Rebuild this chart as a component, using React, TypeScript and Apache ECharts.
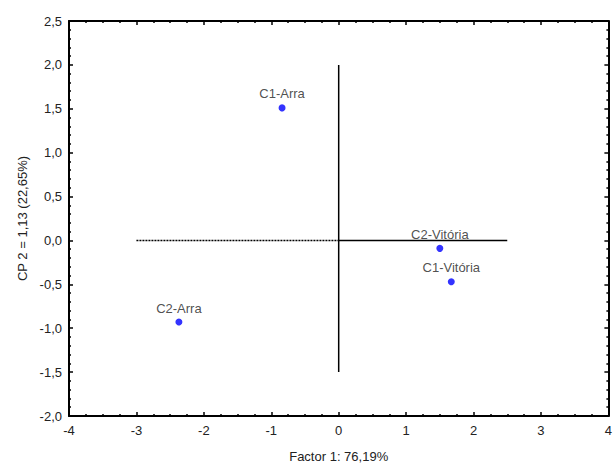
import React, { useEffect, useRef } from "react";
import * as echarts from "echarts";

const pointNames = ["C1-Arra", "C2-Arra", "C2-Vitória", "C1-Vitória"];
const factor1 = [-0.84, -2.37, 1.5, 1.67];
const factor2 = [1.51, -0.93, -0.09, -0.47];
const dottedLine = [[-3, 0], [0, 0]];
const solidLine = [[0, 0], [2.5, 0]];
const verticalLine = [[0, 2.0], [0, -1.5]];

const fmt = (v: number, d: number) => v.toFixed(d).replace(".", ",");

export default function App() {
  const ref = useRef<HTMLDivElement>(null);
  useEffect(() => {
    if (!ref.current) return;
    const chart = echarts.init(ref.current, null, { renderer: "svg" });
    const font = "Liberation Sans, Arial, sans-serif";
    const txt = "#222";
    const baseX = {
      type: "value",
      min: -4,
      max: 4,
      interval: 1,
      splitLine: { show: false },
      axisLine: { show: true, onZero: false, lineStyle: { color: "#000", width: 2 } },
      axisTick: { show: true, inside: true, length: 4, lineStyle: { color: "#000", width: 1.5 } },
      minorTick: { show: true, splitNumber: 4, length: 2, lineStyle: { color: "#000", width: 1.5 } },
    };
    const baseY = {
      type: "value",
      min: -2,
      max: 2.5,
      interval: 0.5,
      splitLine: { show: false },
      axisLine: { show: true, onZero: false, lineStyle: { color: "#000", width: 2 } },
      axisTick: { show: true, inside: true, length: 4, lineStyle: { color: "#000", width: 1.5 } },
      minorTick: { show: true, splitNumber: 5, length: 2, lineStyle: { color: "#000", width: 1.5 } },
    };
    chart.setOption({
      animation: false,
      backgroundColor: "#fff",
      grid: { left: 69, right: 6, top: 21, bottom: 46, containLabel: false },
      xAxis: [
        {
          ...baseX,
          position: "bottom",
          name: "Factor 1: 76,19%",
          nameLocation: "middle",
          nameGap: 34,
          nameTextStyle: { color: txt, fontSize: 13, fontFamily: font },
          axisLabel: { color: txt, fontSize: 13, fontFamily: font, margin: 8, formatter: (v: number) => String(v) },
        },
        { ...baseX, position: "top", axisLabel: { show: false } },
      ],
      yAxis: [
        {
          ...baseY,
          position: "left",
          name: "CP 2 = 1,13 (22,65%)",
          nameLocation: "middle",
          nameGap: 40,
          nameTextStyle: { color: txt, fontSize: 13, fontFamily: font },
          axisLabel: { color: txt, fontSize: 13, fontFamily: font, margin: 7, formatter: (v: number) => fmt(v, 1) },
        },
        { ...baseY, position: "right", axisLabel: { show: false } },
      ],
      series: [
        {
          type: "line",
          data: dottedLine,
          symbol: "none",
          lineStyle: { color: "#000", width: 1.5, type: [2, 1] },
          silent: true,
        },
        {
          type: "line",
          data: solidLine,
          symbol: "none",
          lineStyle: { color: "#000", width: 1.5 },
          silent: true,
        },
        {
          type: "line",
          data: verticalLine,
          symbol: "none",
          lineStyle: { color: "#000", width: 1.5 },
          silent: true,
        },
        {
          type: "scatter",
          data: pointNames.map((n, i) => ({ name: n, value: [factor1[i], factor2[i]] })),
          symbol: "circle",
          symbolSize: 7,
          itemStyle: { color: "#0000ff" },
          label: {
            show: true,
            position: "top",
            distance: 4,
            formatter: (p: any) => p.name,
            color: txt,
            fontSize: 13,
            fontFamily: font,
          },
        },
      ],
    });
    return () => chart.dispose();
  }, []);
  return (
    <div
      ref={ref}
      style={{ position: "absolute", left: 0, top: 0, width: 615, height: 468 }}
    />
  );
}
